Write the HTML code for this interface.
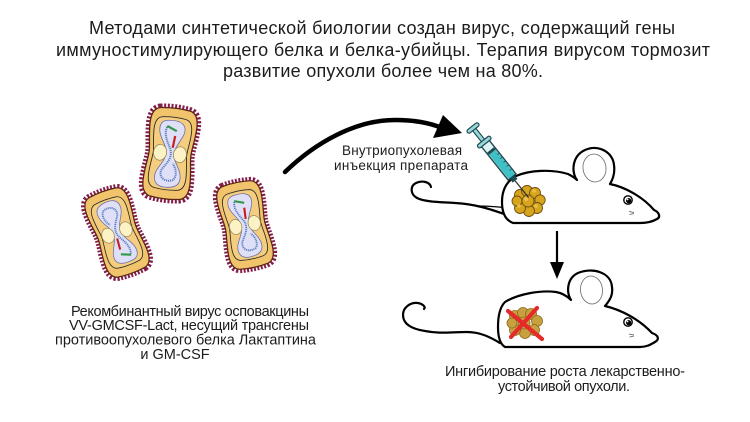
<!DOCTYPE html>
<html>
<head>
<meta charset="utf-8">
<style>
  html,body{margin:0;padding:0;background:#ffffff;}
  svg{display:block;}
  text{font-family:"Liberation Sans","DejaVu Sans",sans-serif;fill:#1c1c1c;}
</style>
</head>
<body>
<svg width="750" height="422" viewBox="0 0 750 422" xmlns="http://www.w3.org/2000/svg">
  <rect x="0" y="0" width="750" height="422" fill="#ffffff"/>

  <!-- Title -->
  <text x="89" y="34" font-size="18" textLength="586" lengthAdjust="spacing">Методами синтетической биологии создан вирус, содержащий гены</text>
  <text x="56" y="56" font-size="18" textLength="654" lengthAdjust="spacing">иммуностимулирующего белка и белка-убийцы. Терапия вирусом тормозит</text>
  <text x="223" y="77" font-size="18" textLength="320" lengthAdjust="spacing">развитие опухоли более чем на 80%.</text>

  <!-- Viruses -->
  <g transform="translate(170,153.5) rotate(7)">
    <path d="M -15,-44.5 C -5,-46 5,-46 15,-44.5 C 22,-43 24,-36 23.5,-26 C 23,-14 21,-7 21,0 C 21,7 23,14 23.5,26 C 24,36 22,43 15,44.5 C 5,46 -5,46 -15,44.5 C -22,43 -24,36 -23.5,26 C -23,14 -21,7 -21,0 C -21,-7 -23,-14 -23.5,-26 C -24,-36 -22,-43 -15,-44.5 Z" fill="none" stroke="#861c4a" stroke-width="8" stroke-dasharray="2 1.6"/>
    <path d="M -15,-44.5 C -5,-46 5,-46 15,-44.5 C 22,-43 24,-36 23.5,-26 C 23,-14 21,-7 21,0 C 21,7 23,14 23.5,26 C 24,36 22,43 15,44.5 C 5,46 -5,46 -15,44.5 C -22,43 -24,36 -23.5,26 C -23,14 -21,7 -21,0 C -21,-7 -23,-14 -23.5,-26 C -24,-36 -22,-43 -15,-44.5 Z" fill="#f1c36a" stroke="#5a2418" stroke-width="1.3"/>
    <path transform="scale(0.8)" d="M -15,-44.5 C -5,-46 5,-46 15,-44.5 C 22,-43 24,-36 23.5,-26 C 23,-14 21,-7 21,0 C 21,7 23,14 23.5,26 C 24,36 22,43 15,44.5 C 5,46 -5,46 -15,44.5 C -22,43 -24,36 -23.5,26 C -23,14 -21,7 -21,0 C -21,-7 -23,-14 -23.5,-26 C -24,-36 -22,-43 -15,-44.5 Z" fill="#f4cd7e" stroke="#2a2a2a" stroke-width="1.1"/>
    <path d="M -3,-33 C 8,-34 13,-30 12,-22 C 10,-14 4,-8 4,0 C 4,8 13,14 13,24 C 13,32 6,34 -2,34 C -11,34 -14,28 -12,20 C -9,12 -4,8 -4,0 C -4,-8 -12,-14 -13,-22 C -14,-30 -10,-33 -3,-33 Z" fill="#dfe0f7" stroke="#6b6fa8" stroke-width="0.8"/>
    <ellipse cx="-10" cy="0" rx="6.5" ry="8" fill="#fcf2c6" stroke="#9a8a55" stroke-width="0.8"/>
    <ellipse cx="10" cy="0" rx="6.5" ry="8" fill="#fcf2c6" stroke="#9a8a55" stroke-width="0.8"/>
    <path d="M -6,-26 C -9,-18 -3,-10 0,-4 C 3,4 -2,10 -6,16 C -10,24 -2,30 6,26 C 10,22 8,14 4,10" fill="none" stroke="#5a7fc0" stroke-width="2" stroke-dasharray="1.2 0.8"/>
    <line x1="3" y1="-18" x2="2" y2="-6" stroke="#c81e1e" stroke-width="2.2"/>
    <line x1="-6" y1="-27" x2="4" y2="-23" stroke="#2e9a46" stroke-width="2.2"/>
  </g>

  <g transform="translate(117,232.5) rotate(160) scale(0.95)">
    <path d="M -15,-44.5 C -5,-46 5,-46 15,-44.5 C 22,-43 24,-36 23.5,-26 C 23,-14 21,-7 21,0 C 21,7 23,14 23.5,26 C 24,36 22,43 15,44.5 C 5,46 -5,46 -15,44.5 C -22,43 -24,36 -23.5,26 C -23,14 -21,7 -21,0 C -21,-7 -23,-14 -23.5,-26 C -24,-36 -22,-43 -15,-44.5 Z" fill="none" stroke="#861c4a" stroke-width="8" stroke-dasharray="2 1.6"/>
    <path d="M -15,-44.5 C -5,-46 5,-46 15,-44.5 C 22,-43 24,-36 23.5,-26 C 23,-14 21,-7 21,0 C 21,7 23,14 23.5,26 C 24,36 22,43 15,44.5 C 5,46 -5,46 -15,44.5 C -22,43 -24,36 -23.5,26 C -23,14 -21,7 -21,0 C -21,-7 -23,-14 -23.5,-26 C -24,-36 -22,-43 -15,-44.5 Z" fill="#f1c36a" stroke="#5a2418" stroke-width="1.3"/>
    <path transform="scale(0.8)" d="M -15,-44.5 C -5,-46 5,-46 15,-44.5 C 22,-43 24,-36 23.5,-26 C 23,-14 21,-7 21,0 C 21,7 23,14 23.5,26 C 24,36 22,43 15,44.5 C 5,46 -5,46 -15,44.5 C -22,43 -24,36 -23.5,26 C -23,14 -21,7 -21,0 C -21,-7 -23,-14 -23.5,-26 C -24,-36 -22,-43 -15,-44.5 Z" fill="#f4cd7e" stroke="#2a2a2a" stroke-width="1.1"/>
    <path d="M -3,-33 C 8,-34 13,-30 12,-22 C 10,-14 4,-8 4,0 C 4,8 13,14 13,24 C 13,32 6,34 -2,34 C -11,34 -14,28 -12,20 C -9,12 -4,8 -4,0 C -4,-8 -12,-14 -13,-22 C -14,-30 -10,-33 -3,-33 Z" fill="#dfe0f7" stroke="#6b6fa8" stroke-width="0.8"/>
    <ellipse cx="-10" cy="0" rx="6.5" ry="8" fill="#fcf2c6" stroke="#9a8a55" stroke-width="0.8"/>
    <ellipse cx="10" cy="0" rx="6.5" ry="8" fill="#fcf2c6" stroke="#9a8a55" stroke-width="0.8"/>
    <path d="M -6,-26 C -9,-18 -3,-10 0,-4 C 3,4 -2,10 -6,16 C -10,24 -2,30 6,26 C 10,22 8,14 4,10" fill="none" stroke="#5a7fc0" stroke-width="2" stroke-dasharray="1.2 0.8"/>
    <line x1="3" y1="-18" x2="2" y2="-6" stroke="#c81e1e" stroke-width="2.2"/>
    <line x1="-6" y1="-27" x2="4" y2="-23" stroke="#2e9a46" stroke-width="2.2"/>
  </g>

  <g transform="translate(245,225) rotate(-12) scale(0.95)">
    <path d="M -15,-44.5 C -5,-46 5,-46 15,-44.5 C 22,-43 24,-36 23.5,-26 C 23,-14 21,-7 21,0 C 21,7 23,14 23.5,26 C 24,36 22,43 15,44.5 C 5,46 -5,46 -15,44.5 C -22,43 -24,36 -23.5,26 C -23,14 -21,7 -21,0 C -21,-7 -23,-14 -23.5,-26 C -24,-36 -22,-43 -15,-44.5 Z" fill="none" stroke="#861c4a" stroke-width="8" stroke-dasharray="2 1.6"/>
    <path d="M -15,-44.5 C -5,-46 5,-46 15,-44.5 C 22,-43 24,-36 23.5,-26 C 23,-14 21,-7 21,0 C 21,7 23,14 23.5,26 C 24,36 22,43 15,44.5 C 5,46 -5,46 -15,44.5 C -22,43 -24,36 -23.5,26 C -23,14 -21,7 -21,0 C -21,-7 -23,-14 -23.5,-26 C -24,-36 -22,-43 -15,-44.5 Z" fill="#f1c36a" stroke="#5a2418" stroke-width="1.3"/>
    <path transform="scale(0.8)" d="M -15,-44.5 C -5,-46 5,-46 15,-44.5 C 22,-43 24,-36 23.5,-26 C 23,-14 21,-7 21,0 C 21,7 23,14 23.5,26 C 24,36 22,43 15,44.5 C 5,46 -5,46 -15,44.5 C -22,43 -24,36 -23.5,26 C -23,14 -21,7 -21,0 C -21,-7 -23,-14 -23.5,-26 C -24,-36 -22,-43 -15,-44.5 Z" fill="#f4cd7e" stroke="#2a2a2a" stroke-width="1.1"/>
    <path d="M -3,-33 C 8,-34 13,-30 12,-22 C 10,-14 4,-8 4,0 C 4,8 13,14 13,24 C 13,32 6,34 -2,34 C -11,34 -14,28 -12,20 C -9,12 -4,8 -4,0 C -4,-8 -12,-14 -13,-22 C -14,-30 -10,-33 -3,-33 Z" fill="#dfe0f7" stroke="#6b6fa8" stroke-width="0.8"/>
    <ellipse cx="-10" cy="0" rx="6.5" ry="8" fill="#fcf2c6" stroke="#9a8a55" stroke-width="0.8"/>
    <ellipse cx="10" cy="0" rx="6.5" ry="8" fill="#fcf2c6" stroke="#9a8a55" stroke-width="0.8"/>
    <path d="M -6,-26 C -9,-18 -3,-10 0,-4 C 3,4 -2,10 -6,16 C -10,24 -2,30 6,26 C 10,22 8,14 4,10" fill="none" stroke="#5a7fc0" stroke-width="2" stroke-dasharray="1.2 0.8"/>
    <line x1="3" y1="-18" x2="2" y2="-6" stroke="#c81e1e" stroke-width="2.2"/>
    <line x1="-6" y1="-27" x2="4" y2="-23" stroke="#2e9a46" stroke-width="2.2"/>
  </g>

  <!-- Left caption -->
  <text x="71" y="316" font-size="14.5" textLength="238" lengthAdjust="spacing">Рекомбинантный вирус осповакцины</text>
  <text x="69" y="330" font-size="14.5" textLength="240" lengthAdjust="spacing">VV-GMCSF-Lact, несущий трансгены</text>
  <text x="55" y="344.5" font-size="14.5" textLength="261" lengthAdjust="spacing">противоопухолевого белка Лактаптина</text>
  <text x="175" y="359" font-size="14.5" text-anchor="middle">и GM-CSF</text>

  <!-- Curved arrow -->
  <path d="M 285,172 C 315,143 355,120 395,120 C 415,120 430,123 442,128" fill="none" stroke="#000" stroke-width="4.5" stroke-linecap="round"/>
  <polygon points="462,133 443,115 433,138" fill="#000"/>

  <!-- Arrow label -->
  <text x="342" y="155" font-size="13.5" textLength="120" lengthAdjust="spacing">Внутриопухолевая</text>
  <text x="334" y="170" font-size="13.5" textLength="134" lengthAdjust="spacing">инъекция препарата</text>

  <!-- Top mouse -->
  <path d="M 507,215 C 490,209 475,204 455,203 C 440,202 425,202 417,198 C 410,194 410,186 416,183 C 422,180 430,182 431,187" fill="none" stroke="#000" stroke-width="2.2" stroke-linecap="round"/>
  <path d="M 510,208 C 500,207 490,206 478,206" fill="none" stroke="#000" stroke-width="1.3"/>
  <path d="M 513,223 C 505,220 502,212 502,202 C 502,190 507,181 516,176 C 530,170 552,169 568,174 C 572,176 575,178 577,180 C 571,172 572,156 585,150 C 598,144 613,152 614,165 C 615,172 613,179 610,184 C 625,187 643,197 654,210 C 659,212 661,217 657,219 C 652,222 647,223 640,223 L 513,223 Z" fill="#fff" stroke="#000" stroke-width="2.2" stroke-linejoin="round"/>
  <ellipse cx="594.5" cy="168" rx="11.5" ry="14" transform="rotate(-8 594.5 168)" fill="#fff" stroke="#777" stroke-width="0.9"/>
  <circle cx="628" cy="200" r="4.2" fill="#fff" stroke="#000" stroke-width="1.4"/>
  <circle cx="628.6" cy="200.6" r="2.6" fill="#000"/>
  <circle cx="627.6" cy="199.5" r="0.9" fill="#fff"/>
  <path d="M 629,211.5 L 634,212.5 M 629.5,214.5 L 634,213.5" stroke="#555" stroke-width="0.7" fill="none"/>

  <!-- Top tumor -->
  <g stroke="#6e4f0c" stroke-width="0.9" fill="#d6a41d">
    <circle cx="520" cy="195" r="5.5"/>
    <circle cx="527" cy="191" r="5.5"/>
    <circle cx="535" cy="193" r="5.5"/>
    <circle cx="540" cy="200" r="5.2"/>
    <circle cx="537" cy="208" r="5.5"/>
    <circle cx="529" cy="211" r="5.5"/>
    <circle cx="520" cy="208" r="5.5"/>
    <circle cx="517" cy="201" r="5"/>
    <circle cx="528" cy="201" r="6"/>
  </g>
  <g fill="#e9c24a">
    <circle cx="526" cy="199" r="2.2"/>
    <circle cx="534" cy="191" r="1.8"/>
    <circle cx="519" cy="206" r="1.8"/>
    <circle cx="536" cy="206" r="1.8"/>
  </g>

  <!-- Syringe -->
  <g transform="translate(473,128) rotate(51.4)">
    <line x1="67.5" y1="0" x2="89" y2="0" stroke="#333" stroke-width="1.3"/>
    <rect x="1.5" y="-2" width="16" height="4" fill="#9ad7dc" stroke="#1f4a52" stroke-width="1.1"/>
    <rect x="-2" y="-7" width="4" height="14" rx="1.8" fill="#9ad7dc" stroke="#1f4a52" stroke-width="1.2"/>
    <rect x="19.5" y="-5" width="43" height="10" fill="#dff3f5" stroke="#1f4a52" stroke-width="1.4"/>
    <rect x="31" y="-4" width="31" height="8" fill="#3fc0c6"/>
    <rect x="28" y="-4.3" width="3" height="8.6" fill="#1f4a52"/>
    <path d="M 36,-5 L 36,-2.3 M 41,-5 L 41,-2.3 M 46,-5 L 46,-2.3 M 51,-5 L 51,-2.3 M 56,-5 L 56,-2.3" stroke="#1f4a52" stroke-width="0.8"/>
    <rect x="16" y="-8" width="4" height="16" rx="1.8" fill="#9ad7dc" stroke="#1f4a52" stroke-width="1.2"/>
    <rect x="62.5" y="-3" width="5" height="6" fill="#1f4a52"/>
  </g>

  <!-- Down arrow -->
  <line x1="557" y1="231" x2="557" y2="264" stroke="#000" stroke-width="2.2"/>
  <polygon points="550,262 564,262 557,279" fill="#000"/>

  <!-- Bottom mouse -->
  <path d="M 500,343 C 490,337 480,332 467,332 C 450,332 440,334 425,331 C 412,329 403,324 403,315 C 403,307 411,302 418,303 C 423,304 426,307 424,309" fill="none" stroke="#000" stroke-width="2.2" stroke-linecap="round"/>
  <path d="M 505,347 C 500,344 498,336 498,327 C 498,315 500,307 505,302 C 518,294 540,290 556,292 C 562,293 567,296 571,300 C 566,292 567,278 578,273 C 592,267 611,272 612,287 C 613,294 611,299 605,306 C 622,310 640,320 652,333 C 658,335 660,339 655,342 C 650,345 646,347 640,347 L 505,347 Z" fill="#fff" stroke="#000" stroke-width="2.2" stroke-linejoin="round"/>
  <ellipse cx="591.5" cy="290" rx="11" ry="14" transform="rotate(-6 591.5 290)" fill="#fff" stroke="#777" stroke-width="0.9"/>
  <circle cx="628" cy="322" r="4.2" fill="#fff" stroke="#000" stroke-width="1.4"/>
  <circle cx="628.6" cy="322.6" r="2.6" fill="#000"/>
  <circle cx="627.6" cy="321.5" r="0.9" fill="#fff"/>
  <path d="M 629,334 L 634,335 M 629.5,337 L 634,336" stroke="#555" stroke-width="0.7" fill="none"/>

  <!-- Bottom tumor -->
  <g stroke="#8a6a1c" stroke-width="0.8" fill="#c9a040">
    <circle cx="515" cy="316" r="5.5"/>
    <circle cx="523" cy="313" r="5.5"/>
    <circle cx="531" cy="314" r="5.5"/>
    <circle cx="537" cy="321" r="5.5"/>
    <circle cx="534" cy="330" r="5.5"/>
    <circle cx="525" cy="333" r="5.5"/>
    <circle cx="515" cy="330" r="5.5"/>
    <circle cx="512" cy="323" r="5"/>
    <circle cx="524" cy="323" r="6"/>
  </g>
  <!-- Red X -->
  <path d="M 508,311 L 542,339" stroke="#e52a2a" stroke-width="4.2" stroke-linecap="round"/>
  <path d="M 537,308 L 511,337" stroke="#e52a2a" stroke-width="4.2" stroke-linecap="round"/>

  <!-- Bottom caption -->
  <text x="445" y="376" font-size="14.5" textLength="240" lengthAdjust="spacing">Ингибирование роста лекарственно-</text>
  <text x="498" y="391" font-size="14.5" textLength="132" lengthAdjust="spacing">устойчивой опухоли.</text>
</svg>
</body>
</html>
